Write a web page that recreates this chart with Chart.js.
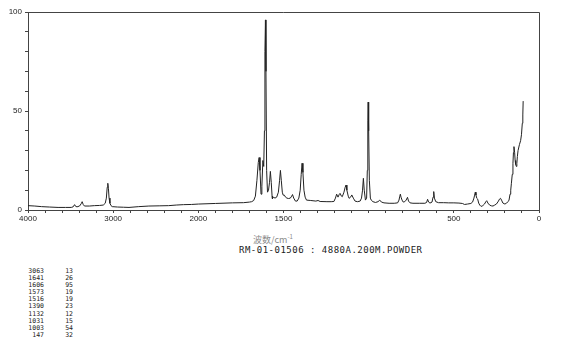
<!DOCTYPE html>
<html>
<head>
<meta charset="utf-8">
<script src="https://cdn.jsdelivr.net/npm/chart.js@4.4.0/dist/chart.umd.min.js"></script>
<style>
  body { margin: 0; background: #fff; width: 570px; height: 346px; overflow: hidden; position: relative; }
  #chart { position: absolute; left: 0; top: 0; }
  .xtitle { position: absolute; left: 253px; top: 231px; font-family: "Noto Sans CJK SC"; font-size: 9px; line-height: 12px; color: #8a8a8a; }
  .xtitle sup { font-size: 6px; }
  .caption { position: absolute; left: 239px; top: 245px; font-family: "DejaVu Sans Mono"; font-size: 9px; line-height: 10px; letter-spacing: 0.5px; color: #222; }
  #peaks { position: absolute; left: 0; top: 268px; font-family: "DejaVu Sans Mono"; font-size: 6.5px; line-height: 7.1px; color: #222; }
  #peaks span { display: inline-block; text-align: right; }
</style>
</head>
<body>
<canvas id="chart" width="570" height="230"></canvas>
<div class="xtitle">波数/cm<sup>-1</sup></div>
<div class="caption">RM-01-01506 : 4880A.200M.POWDER</div>
<div id="peaks"></div>
<script>
// spectrum (wavenumber cm-1, intensity %)
const wavenumbers = [
  4000, 3920, 3841, 3750, 3647, 3560, 3492, 3470, 3453, 3440, 3424, 3395, 3375, 3364, 3352, 3337,
  3280, 3221, 3160, 3116, 3093, 3080, 3070, 3063, 3056, 3048, 3038, 3025, 3011, 2950, 2880, 2814,
  2700, 2581, 2460, 2349, 2260, 2174, 2080, 2000, 1900, 1800, 1735, 1700, 1687, 1675, 1665, 1656,
  1648, 1643, 1638, 1632, 1627, 1621, 1616, 1612, 1609, 1606, 1603, 1599, 1594, 1588, 1582, 1577,
  1572, 1567, 1565, 1558, 1550, 1540, 1530, 1523, 1518, 1513, 1507, 1502, 1495, 1488, 1480, 1470,
  1460, 1452, 1447, 1440, 1430, 1420, 1410, 1402, 1396, 1391, 1386, 1380, 1373, 1365, 1340, 1310,
  1297, 1285, 1245, 1220, 1204, 1195, 1188, 1180, 1172, 1168, 1160, 1155, 1145, 1138, 1133, 1128,
  1120, 1115, 1106, 1099, 1090, 1080, 1066, 1050, 1042, 1036, 1031, 1026, 1019, 1012, 1008, 1005,
  1003, 1000, 996, 990, 985, 975, 960, 945, 935, 925, 910, 880, 850, 830, 822, 817,
  814, 810, 804, 797, 788, 780, 772, 766, 757, 740, 700, 670, 660, 654, 648, 640,
  628, 622, 618, 614, 606, 590, 560, 530, 500, 470, 450, 437, 420, 400, 390, 382,
  378, 374, 370, 365, 360, 354, 348, 340, 330, 320, 312, 307, 300, 290, 280, 270,
  260, 250, 238, 232, 226, 220, 212, 200, 190, 182, 176, 170, 166, 162, 157, 153,
  150, 147, 143, 140, 137, 133, 130, 127, 123, 115, 108, 103, 98, 95, 93
];
const intensities = [
  2.2, 2.0, 1.7, 1.5, 1.3, 1.3, 1.3, 1.6, 2.7, 1.8, 1.6, 2.0, 3.2, 4.2, 2.8, 2.0,
  2.0, 2.2, 2.3, 2.5, 3.4, 6, 11.5, 13.5, 11, 6, 3.4, 2.2, 1.7, 1.5, 1.4, 1.3,
  1.7, 2.0, 2.1, 2.2, 2.5, 2.7, 2.8, 3.0, 3.3, 3.6, 3.7, 4.0, 4.2, 4.8, 7, 15,
  24, 26.5, 20, 8, 12, 25, 22, 40, 80, 96, 70, 20, 9, 10, 14, 19.5,
  14, 7, 5.7, 6.5, 6, 6.5, 9, 15, 20, 15, 9, 7.5, 7.5, 6.5, 6, 5.8,
  6, 7, 7.8, 6, 4.5, 4.5, 6, 10, 18, 23.6, 19, 10, 6.5, 5, 4.8, 4.5,
  4.8, 4.3, 4.2, 4.2, 4.3, 6, 8, 6.5, 8, 8.4, 7, 6.7, 9, 11.5, 12.6, 10,
  7, 5.9, 6.5, 7.6, 6, 4.5, 4.2, 4.5, 6, 10, 16, 10, 5, 6, 20, 45,
  54.5, 40, 15, 6, 5, 4.2, 3.8, 4.2, 5, 4, 3.6, 3.4, 3.4, 3.6, 5, 7,
  8, 6.5, 5, 4, 4.2, 5, 6.4, 4.5, 3.6, 3.4, 3.4, 3.4, 3.8, 5.4, 4, 3.5,
  4, 6.5, 9.3, 6, 4.2, 3.7, 3.7, 3.6, 3.6, 3.5, 3.3, 2.8, 3, 3.3, 4, 6,
  7.5, 9, 7.5, 5.9, 5.5, 3.5, 2.5, 1.8, 2.2, 3, 4.2, 4.7, 3.5, 2.5, 2.1, 2.0,
  2.5, 3, 4.5, 5.5, 5.9, 5, 3.5, 3, 3.5, 4.2, 5, 8, 10, 13.5, 18, 23.6,
  29, 32, 29, 25, 23, 22, 23.5, 27, 30, 33, 35, 38, 43.8, 48, 55
];

// peak table printed under the chart
const peakWavenumbers = [3063, 1641, 1606, 1573, 1516, 1390, 1132, 1031, 1003, 147];
const peakIntensities = [13, 26, 95, 19, 19, 23, 12, 15, 54, 32];

const xTickLabels = [4000, 3000, 2000, 1500, 500, 0];
const yTickLabels = [0, 50, 100];

// above 2000 cm-1 the axis is drawn at half scale
const toAxis = wn => wn > 2000 ? 2000 + (wn - 2000) / 2 : wn;
const fromAxis = t => t > 2000 ? 2000 + (t - 2000) * 2 : t;

const peaksDiv = document.getElementById('peaks');
peakWavenumbers.forEach((wn, i) => {
  const row = document.createElement('div');
  row.innerHTML = '<span style="width:44px">' + wn + '</span><span style="width:29px">' + peakIntensities[i] + '</span>';
  peaksDiv.appendChild(row);
});

const framePlugin = {
  id: 'frame',
  afterDraw(chart) {
    const { ctx, chartArea } = chart;
    ctx.save();
    ctx.strokeStyle = '#444';
    ctx.lineWidth = 1;
    ctx.beginPath();
    ctx.moveTo(chartArea.left, chartArea.top + 0.5);
    ctx.lineTo(chartArea.right + 0.5, chartArea.top + 0.5);
    ctx.lineTo(chartArea.right + 0.5, chartArea.bottom);
    ctx.stroke();
    ctx.restore();
  }
};

Chart.defaults.font.family = '"Liberation Sans Narrow", "Liberation Sans", sans-serif';
Chart.defaults.font.size = 8;
Chart.defaults.color = '#222';

new Chart(document.getElementById('chart'), {
  type: 'line',
  data: {
    datasets: [{
      data: wavenumbers.map((wn, i) => ({ x: toAxis(wn), y: intensities[i] })),
      borderColor: '#222',
      borderWidth: 1,
      pointRadius: 0,
      tension: 0,
      fill: false
    }]
  },
  options: {
    responsive: false,
    animation: false,
    layout: { padding: { left: 0, right: 31, top: 12, bottom: 0 } },
    plugins: { legend: { display: false }, tooltip: { enabled: false } },
    scales: {
      x: {
        type: 'linear',
        min: 0,
        max: 3000,
        reverse: true,
        afterBuildTicks: scale => {
          const ticks = [];
          for (let t = 0; t <= 3000; t += 100) ticks.push({ value: t });
          scale.ticks = ticks;
        },
        afterFit: scale => { scale.height = 20; },
        ticks: {
          autoSkip: false,
          maxRotation: 0,
          padding: 1,
          callback: val => {
            const wn = Math.round(fromAxis(val));
            return xTickLabels.includes(wn) ? String(wn) : '';
          }
        },
        grid: { drawOnChartArea: false, tickLength: 3, color: '#444' },
        border: { display: true, color: '#444' }
      },
      y: {
        min: 0,
        max: 100,
        afterFit: scale => { scale.width = 28; },
        ticks: {
          stepSize: 10,
          padding: 3,
          callback: val => yTickLabels.includes(val) ? String(val) : ''
        },
        grid: { drawOnChartArea: false, tickLength: 3, color: '#444' },
        border: { display: true, color: '#444' }
      }
    }
  },
  plugins: [framePlugin]
});
</script>
</body>
</html>
